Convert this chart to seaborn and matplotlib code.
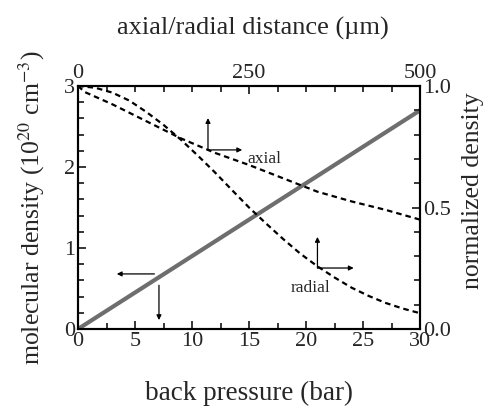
"""
Molecular density vs back pressure, with axial/radial density profiles.
"""
import numpy as np
import pandas as pd
import matplotlib
matplotlib.use("Agg")
import matplotlib.pyplot as plt
from matplotlib.ticker import MultipleLocator, FormatStrFormatter
import seaborn as sns

# back pressure (bar) vs molecular density (1e20 cm^-3)
pressure = [0, 5, 10, 15, 20, 25, 30]
mol_density = [0.0, 0.45, 0.9, 1.35, 1.8, 2.25, 2.7]

# axial profile: distance (um) vs normalized density
axial_dist = [0, 10, 50, 100, 150, 200, 250, 300, 350, 400, 450, 500]
axial_dens = [1.0, 0.975, 0.925, 0.855, 0.785, 0.725, 0.675, 0.62, 0.565, 0.525, 0.49, 0.45]

# radial profile: distance (um) vs normalized density
radial_dist = [0, 25, 50, 75, 100, 125, 150, 175, 200, 225, 250, 275, 300,
               325, 350, 375, 400, 425, 450, 475, 500]
radial_dens = [1.0, 0.993, 0.973, 0.94, 0.893, 0.84, 0.78, 0.714, 0.645, 0.572,
               0.50, 0.434, 0.37, 0.31, 0.258, 0.212, 0.17, 0.136, 0.107, 0.084, 0.065]

# arrow annotations (tail, head)
left_arrows = [((6.7, 0.68), (3.4, 0.68)), ((7.1, 0.54), (7.1, 0.11))]
axial_arrows = [((190, 0.737), (190, 0.868)), ((190, 0.737), (240, 0.737))]
radial_arrows = [((350, 0.251), (350, 0.379)), ((350, 0.251), (403, 0.251))]
curve_labels = [("axial", 273, 0.70), ("radial", 340, 0.169)]

sns.set_style("ticks")
plt.rcParams['font.family'] = ['Liberation Serif', 'DejaVu Serif']
plt.rcParams['mathtext.fontset'] = 'stix'

fig = plt.figure(figsize=(4.95, 4.08), dpi=100)
rect = [0.1576, 0.1936, 0.691, 0.5956]
ax = fig.add_axes(rect)
ax2 = fig.add_axes(rect, facecolor='none')

# pressure line
df_p = pd.DataFrame({'pressure': pressure, 'density': mol_density})
sns.lineplot(data=df_p, x='pressure', y='density', ax=ax, color='#6e6e6e', lw=3)
ax.set_xlim(0, 30)
ax.set_ylim(0, 3)

# density profiles
df_a = pd.DataFrame({'dist': axial_dist, 'dens': axial_dens})
df_r = pd.DataFrame({'dist': radial_dist, 'dens': radial_dens})
sns.lineplot(data=df_a, x='dist', y='dens', ax=ax2, color='black', lw=1.6,
             linestyle=(0, (2.5, 1.8)))
sns.lineplot(data=df_r, x='dist', y='dens', ax=ax2, color='black', lw=1.6,
             linestyle=(0, (2.5, 1.8)))
ax2.set_xlim(0, 500)
ax2.set_ylim(0, 1)

arrow_kw = dict(arrowstyle='-|>', color='black', lw=0.9, mutation_scale=7,
                shrinkA=0, shrinkB=0)
for tail, head in left_arrows:
    ax.annotate('', xy=head, xytext=tail, arrowprops=arrow_kw)
for tail, head in axial_arrows + radial_arrows:
    ax2.annotate('', xy=head, xytext=tail, arrowprops=arrow_kw)
for txt, x, y in curve_labels:
    ax2.text(x, y, txt, fontsize=12.5, ha='center', va='center')

# ticks
ax.xaxis.set_major_locator(MultipleLocator(5))
ax.xaxis.set_minor_locator(MultipleLocator(2.5))
ax.yaxis.set_major_locator(MultipleLocator(1))
ax.yaxis.set_minor_locator(MultipleLocator(0.2))
ax.tick_params(which='both', direction='in', labelsize=16, width=1.3, pad=2,
               bottom=True, left=True, top=False, right=False)
ax.tick_params(which='major', length=6)
ax.tick_params(which='minor', length=4)

ax2.xaxis.tick_top()
ax2.yaxis.tick_right()
ax2.xaxis.set_label_position('top')
ax2.yaxis.set_label_position('right')
ax2.set_xticks([0, 250, 500])
ax2.xaxis.set_minor_locator(MultipleLocator(500 / 12))
ax2.yaxis.set_major_locator(MultipleLocator(0.5))
ax2.yaxis.set_minor_locator(MultipleLocator(0.1))
ax2.yaxis.set_major_formatter(FormatStrFormatter('%.1f'))
ax2.tick_params(which='both', direction='in', labelsize=16, width=1.3, pad=2,
                top=True, right=True, bottom=False, left=False)
ax2.tick_params(which='major', length=6)
ax2.tick_params(which='minor', length=4)

for a in (ax, ax2):
    for s in a.spines.values():
        s.set_linewidth(1.5)
        s.set_color('black')

ax.set_xlabel('back pressure (bar)', fontsize=19.5)
ax.set_ylabel(r'molecular density (10$^{20}$ cm$^{-3}$)', fontsize=18.5)
ax.xaxis.set_label_coords(0.5, -0.215)
ax.yaxis.set_label_coords(-0.09, 0.5)
ax2.set_xlabel('axial/radial distance (\u00b5m)', fontsize=19)
ax2.set_ylabel('normalized density', fontsize=18.5)
ax2.xaxis.set_label_coords(0.51, 1.21)
ax2.yaxis.set_label_coords(1.122, 0.57)

fig.savefig('out.png', dpi=100)
